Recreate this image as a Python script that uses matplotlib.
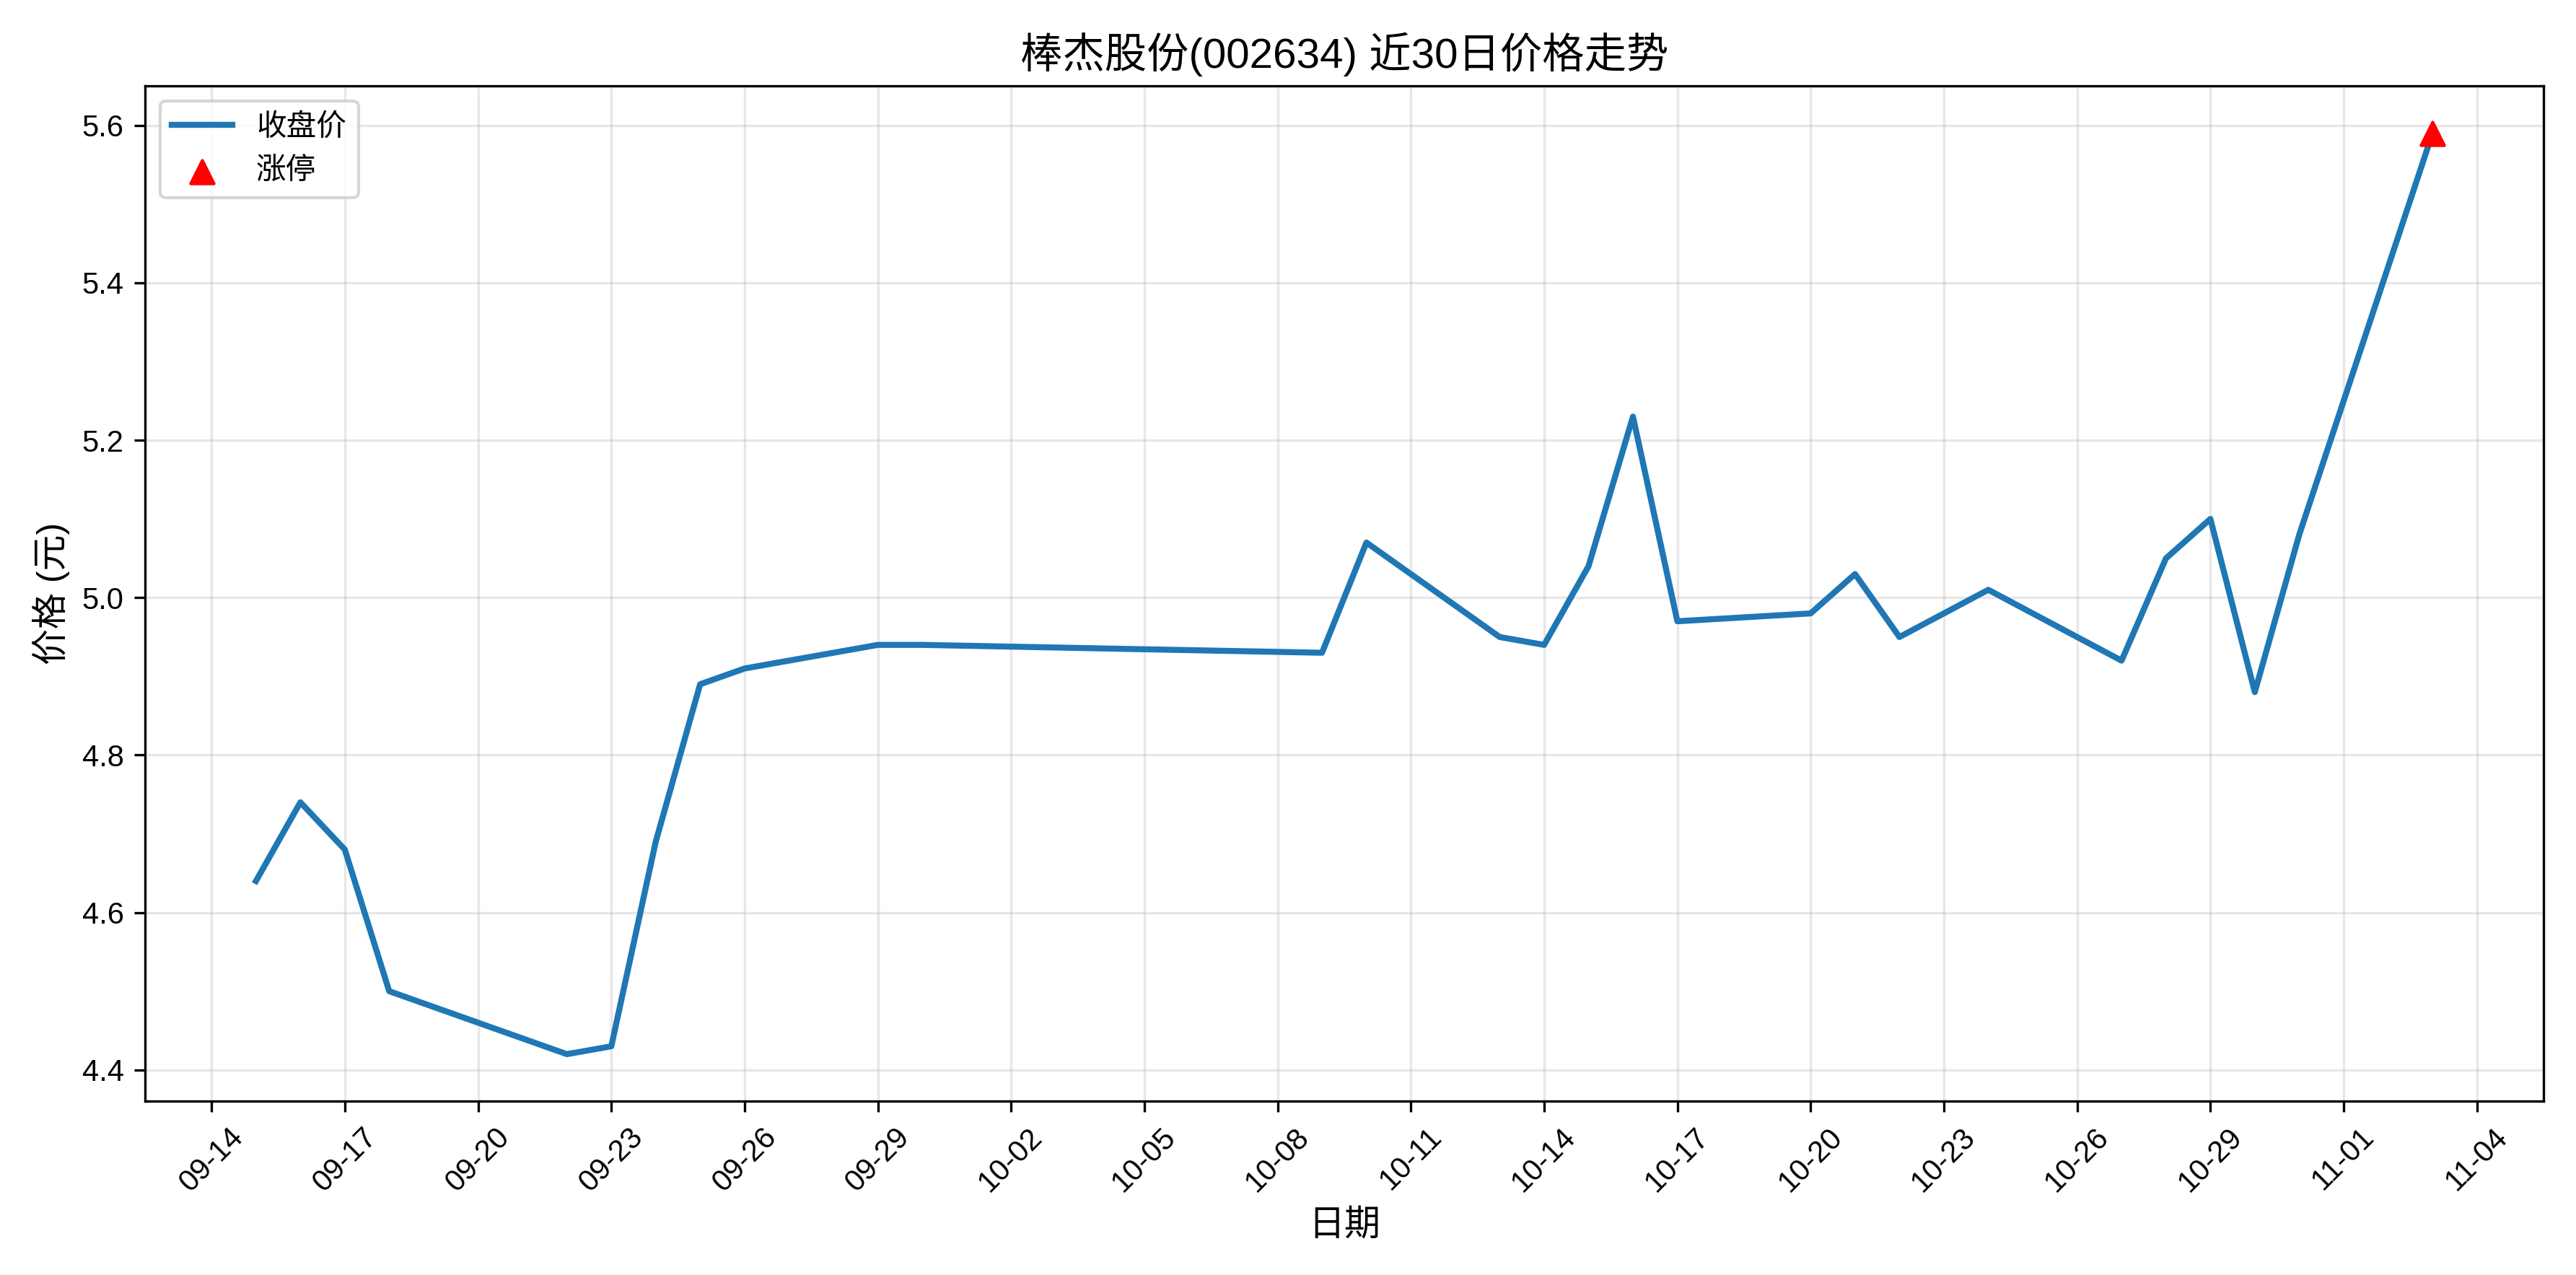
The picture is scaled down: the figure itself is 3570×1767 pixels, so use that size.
import matplotlib
matplotlib.use("Agg")
import matplotlib.pyplot as plt
import matplotlib.dates as mdates
import pandas as pd

plt.rcParams['font.family'] = ['Liberation Sans', 'Noto Sans CJK SC', 'DejaVu Sans']
plt.rcParams['axes.unicode_minus'] = False

dates = ["2025-09-15","2025-09-16","2025-09-17","2025-09-18","2025-09-22","2025-09-23",
         "2025-09-24","2025-09-25","2025-09-26","2025-09-29","2025-09-30","2025-10-09",
         "2025-10-10","2025-10-13","2025-10-14","2025-10-15","2025-10-16","2025-10-17",
         "2025-10-20","2025-10-21","2025-10-22","2025-10-24","2025-10-27","2025-10-28",
         "2025-10-29","2025-10-30","2025-10-31","2025-11-03"]
close = [4.64,4.74,4.68,4.50,4.42,4.43,4.69,4.89,4.91,4.94,4.94,4.93,
         5.07,4.95,4.94,5.04,5.23,4.97,4.98,5.03,4.95,5.01,4.92,5.05,
         5.10,4.88,5.08,5.59]
limit_dates = ["2025-11-03"]
limit_prices = [5.59]

d = pd.to_datetime(dates)
ld = pd.to_datetime(limit_dates)

fig, ax = plt.subplots(figsize=(11.9, 5.89), dpi=300)
ax.plot(d, close, color='#1f77b4', linewidth=2, label='收盘价')
ax.scatter(ld, limit_prices, color='red', marker='^', s=60, zorder=5, label='涨停')
ax.set_title('棒杰股份(002634) 近30日价格走势', fontsize=14)
ax.set_xlabel('日期', fontsize=12)
ax.set_ylabel('价格 (元)', fontsize=12)
ax.grid(True, alpha=0.3)
ax.legend(loc='upper left')
ticks = pd.date_range("2025-09-14", "2025-11-04", freq="3D")
ax.set_xticks(ticks)
ax.xaxis.set_major_formatter(mdates.DateFormatter('%m-%d'))
plt.setp(ax.get_xticklabels(), rotation=45)
ax.set_xlim(pd.Timestamp("2025-09-12 12:00"), pd.Timestamp("2025-11-05 12:00"))
ax.set_ylim(4.36, 5.65)
fig.tight_layout()
fig.savefig("out.png", dpi=300)
